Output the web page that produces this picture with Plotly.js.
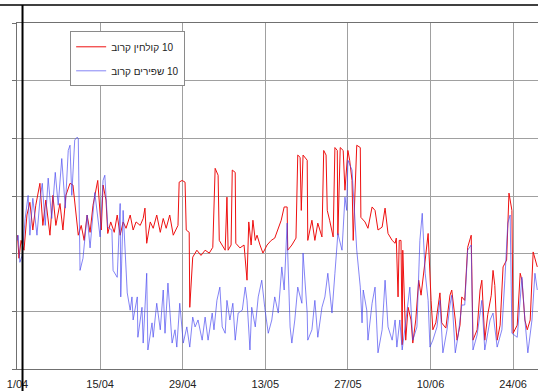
<!DOCTYPE html>
<html>
<head>
<meta charset="utf-8">
<script src="https://cdn.plot.ly/plotly-3.0.1.min.js"></script>
<style>html,body{margin:0;padding:0;background:#fff;}#chart{width:538px;height:391px;}</style>
</head>
<body>
<div id="chart"></div>
<script>
// Series names (Hebrew, right-to-left)
const redName = "10 קולחין קרוב";
const blueName = "10 שפירים קרוב";

// Time in days since 1/04; values in chart units (gridline every 10)
const redDays = [0,0.25,0.6,1.1,1.6,2.1,2.6,3.1,3.8,4.3,4.8,5.5,6.0,6.5,7.2,7.7,8.2,8.9,9.4,9.7,10.3,10.8,11.3,11.8,12.3,12.8,13.3,13.6,14.2,14.5,15.0,15.3,15.8,16.4,16.9,17.4,17.9,18.4,19.1,19.6,20.1,20.8,21.3,21.6,21.9,22.5,23.0,23.6,24.2,24.7,25.2,25.8,26.4,26.9,27.2,27.4,27.9,28.4,28.6,29.1,29.2,29.7,30.4,31.1,31.8,32.5,33.1,33.5,34.0,34.2,34.7,35.2,35.5,35.7,36.2,36.4,36.9,37.0,37.7,38.4,38.9,39.2,39.6,39.9,40.3,40.6,41.1,41.6,42.3,43.0,43.6,44.2,44.7,45.2,45.7,45.8,46.5,47.2,47.5,47.9,48.1,48.4,49.1,49.2,49.9,50.4,50.9,51.6,51.9,52.3,52.5,52.9,53.5,53.8,54.2,54.3,54.7,55.2,55.5,56.0,56.3,56.7,56.9,57.5,58.1,58.2,58.9,59.4,60.1,60.6,61.1,61.8,62.3,62.8,63.5,64.0,64.2,64.5,64.7,65.0,65.2,65.3,65.8,66.2,66.7,67.0,67.5,68.0,68.4,69.1,69.6,70.1,70.4,70.9,71.6,71.9,72.6,73.3,73.6,74.2,74.5,75.0,75.3,75.8,76.3,76.9,77.2,77.9,78.4,78.7,79.2,79.7,80.3,80.6,80.9,81.3,81.8,82.3,82.9,83.3,83.8,84.0,84.7,85.2,85.5,86.0,86.4,86.9,87.4,88.1];
const redValues = [23.2,19.2,22.3,20.6,26.7,28.9,24.1,28.4,32.2,24.9,29.3,23.2,30.1,24.9,28.7,24.1,30.1,32.2,31.9,29.3,23.2,24.9,22.3,26.7,23.7,28.4,31.0,32.7,24.1,31.9,29.3,23.5,25.5,23.7,26.7,23.2,25.5,24.4,26.7,24.1,25.5,24.9,26.1,27.9,21.8,25.5,24.4,26.7,23.7,26.1,24.4,26.7,23.2,24.1,24.9,32.4,32.7,32.4,24.1,23.7,10.7,19.4,20.6,19.7,20.6,20.1,21.1,34.8,33.6,22.3,21.5,20.6,29.8,20.6,21.5,34.5,34.1,21.8,21.0,21.5,15.4,25.5,21.5,25.8,22.3,23.2,21.5,20.1,21.5,22.3,22.7,24.4,25.8,28.1,28.1,20.6,21.5,22.7,37.1,36.7,27.5,37.1,36.2,22.3,25.8,22.3,25.3,22.9,37.9,37.1,27.5,25.8,22.9,38.4,37.9,23.2,38.4,37.9,31.0,37.9,36.2,32.7,22.3,38.8,38.4,26.3,25.5,24.4,28.1,27.5,24.1,24.6,27.9,23.5,22.3,21.8,22.7,12.5,22.3,22.3,4.2,20.6,5.0,10.7,8.5,4.5,8.5,15.4,12.8,18.9,23.5,11.9,6.8,8.0,13.2,8.0,7.1,12.8,13.7,8.5,5.0,7.6,12.5,11.9,21.1,23.2,5.0,6.8,13.7,15.4,5.0,9.4,12.8,17.1,14.5,5.0,7.6,17.7,18.9,30.5,27.5,6.2,7.6,16.6,15.4,8.5,6.8,8.5,20.3,17.7];

const blueDays = [0,0.1,0.4,0.8,1.3,1.8,2.1,2.6,3.3,3.8,4.2,4.7,5.2,5.8,6.4,6.9,7.5,8.1,8.6,8.9,9.2,9.7,10.1,10.3,10.6,11.1,11.8,12.3,13.1,13.6,14.0,14.5,14.8,15.3,16.0,16.2,16.9,17.4,17.5,17.9,18.6,19.1,19.4,19.6,20.3,20.4,21.1,21.3,21.9,22.1,22.8,23.0,23.6,24.2,24.7,25.0,25.5,26.2,26.7,27.0,27.5,28.1,28.7,29.2,29.7,30.1,30.6,31.3,31.8,32.3,33.0,33.3,33.8,34.3,34.7,35.2,35.5,36.0,36.5,36.9,37.4,38.1,38.6,38.9,39.4,39.7,40.3,40.8,41.4,41.9,42.5,43.1,43.6,44.2,44.8,45.2,45.7,45.8,46.2,46.5,47.0,47.5,48.2,48.4,49.1,49.2,49.9,50.4,50.9,51.6,52.1,52.6,53.3,53.8,54.3,55.0,55.5,55.8,56.0,56.7,57.2,57.5,58.1,58.4,58.6,59.2,59.4,60.1,60.6,61.1,61.8,62.3,62.8,63.5,64.0,64.3,64.8,65.2,65.7,66.5,67.0,67.7,68.2,68.6,69.1,69.6,69.9,70.4,71.1,71.6,72.1,72.8,73.3,73.6,74.2,74.7,75.3,75.8,76.3,76.9,77.2,77.9,78.7,79.2,80.1,80.6,81.3,82.1,82.6,83.1,83.5,83.8,84.7,85.5,86.0,86.5,87.2,87.7,88.1];
const blueValues = [22.3,23.2,18.5,19.7,26.1,30.1,23.2,29.6,23.2,29.3,32.2,24.9,33.1,26.1,34.1,28.4,36.5,27.9,37.9,38.8,30.1,39.7,40.2,40.0,17.1,19.2,26.7,21.0,30.6,26.1,22.9,32.7,33.6,24.6,24.1,17.1,15.9,28.7,12.5,27.5,13.2,10.2,12.5,8.5,12.5,5.5,10.7,4.5,16.6,3.3,8.0,5.5,11.4,6.8,13.7,6.2,14.9,4.5,6.8,3.8,11.4,4.5,7.3,3.8,9.0,7.3,8.5,5.0,9.0,5.0,9.7,6.8,11.9,14.2,7.3,6.2,11.9,8.5,11.4,5.0,9.7,10.2,14.2,11.9,3.3,10.7,7.3,12.5,15.4,10.7,6.2,8.5,12.5,9.7,17.7,13.7,25.3,20.1,7.3,4.5,8.5,14.2,11.4,20.1,9.7,5.0,6.8,11.9,5.5,10.7,12.5,16.6,9.7,16.6,23.5,20.6,29.8,27.5,36.2,34.5,26.7,20.6,14.2,8.0,13.7,10.2,5.0,11.4,14.2,2.8,6.8,15.4,7.3,5.0,8.5,3.8,8.5,3.3,7.3,14.2,5.0,7.3,22.3,27.0,16.6,11.9,3.8,5.0,7.3,11.9,2.8,6.8,11.1,12.8,2.8,5.9,11.1,11.1,20.6,21.5,3.3,5.9,11.9,3.3,8.5,9.7,3.8,6.8,15.4,25.3,26.7,6.2,5.5,15.9,8.5,2.8,8.5,16.6,13.7];

// Axis ticks
const tickDays = [0,14,28,42,56,70,84];
const tickLabels = ["1/04","15/04","29/04","13/05","27/05","10/06","24/06"];

const DAY = 86400000;
const t0 = Date.UTC(2008,3,1);
const toTime = d => t0 + d*DAY;
const rtl = s => "\u202B" + s + "\u202C";

const red = {
  x: redDays.map(toTime), y: redValues, type: 'scatter', mode: 'lines',
  name: rtl(redName), line: {color: '#ee1010', width: 1}, legendrank: 1, legendgroup: 'a'
};
const blue = {
  x: blueDays.map(toTime), y: blueValues, type: 'scatter', mode: 'lines',
  name: rtl(blueName), line: {color: '#4848f0', width: 0.8}, opacity: 0.85, legendrank: 2, legendgroup: 'b'
};

const layout = {
  width: 538, height: 391,
  margin: {l: 17, r: 0, t: 23, b: 22, pad: 0},
  paper_bgcolor: '#ffffff', plot_bgcolor: '#ffffff',
  font: {family: 'Liberation Sans, Arial, sans-serif', size: 11, color: '#222'},
  showlegend: true,
  legend: {
    x: 0.102, y: 0.976, xanchor: 'left', yanchor: 'top',
    bgcolor: '#ffffff', bordercolor: '#8a8a8a', borderwidth: 1,
    font: {size: 10, color: '#222'}, tracegroupgap: 5, traceorder: 'grouped'
  },
  xaxis: {
    type: 'date', range: [toTime(-0.085), toTime(88.22)],
    tickvals: tickDays.map(toTime), ticktext: tickLabels,
    showgrid: true, gridcolor: '#a0a0a0', gridwidth: 1,
    showline: true, linecolor: '#707070', linewidth: 1, mirror: true,
    ticks: '', ticklabelstandoff: 5, zeroline: false,
    tickfont: {size: 11, color: '#222'}
  },
  yaxis: {
    range: [0, 60], dtick: 10, tick0: 0,
    showgrid: true, gridcolor: '#a0a0a0', gridwidth: 1,
    showline: true, linecolor: '#707070', linewidth: 1,
    ticks: 'outside', ticklen: 4, tickcolor: '#707070',
    showticklabels: false, zeroline: false
  },
  shapes: [
    {type: 'line', xref: 'paper', yref: 'paper', x0: -0.04, x1: 1.01, y0: 1.052, y1: 1.052,
     line: {color: '#000', width: 1.5}},
    {type: 'line', xref: 'paper', yref: 'paper', x0: 0.0106, x1: 0.0106, y0: 1.052, y1: -0.07,
     line: {color: '#000', width: 2}}
  ]
};
Plotly.newPlot('chart', [red, blue], layout, {displayModeBar: false, staticPlot: true});
</script>
</body>
</html>
